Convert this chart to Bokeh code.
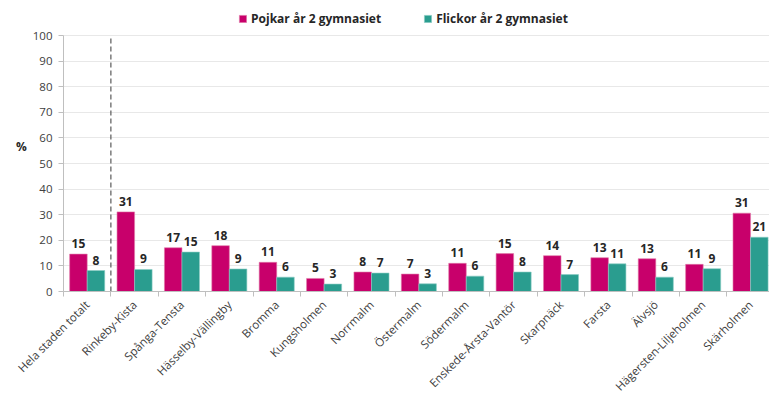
import math
from bokeh.plotting import figure
from bokeh.models import ColumnDataSource, Range1d, FixedTicker, Legend, LegendItem, LabelSet
from bokeh.core.properties import value
from bokeh.embed import file_html
from bokeh.resources import INLINE

categories = ["Hela staden totalt", "Rinkeby-Kista", "Spånga-Tensta", "Hässelby-Vällingby",
              "Bromma", "Kungsholmen", "Norrmalm", "Östermalm", "Södermalm",
              "Enskede-Årsta-Vantör", "Skarpnäck", "Farsta", "Älvsjö",
              "Hägersten-Liljeholmen", "Skärholmen"]
boys = [14.6, 31.1, 17.1, 17.9, 11.4, 5.1, 7.6, 6.8, 11.0, 14.8, 14.0, 13.2, 12.8, 10.6, 30.6]
girls = [8.2, 8.6, 15.4, 8.8, 5.6, 2.9, 7.2, 3.0, 6.0, 7.6, 6.6, 10.8, 5.6, 8.9, 21.2]
series_names = ["Pojkar år 2 gymnasiet", "Flickor år 2 gymnasiet"]
y_ticks = [0, 10, 20, 30, 40, 50, 60, 70, 80, 90, 100]
y_title = "%"

MAGENTA = "#C8006B"
TEAL = "#2A9D8F"
FONT = "Open Sans"

n = len(categories)
centers = [i + 0.5 for i in range(n)]
bw = 0.37
y_max = y_ticks[-1]

src_b = ColumnDataSource(dict(x=[c - bw / 2 for c in centers], top=boys,
                              lab=["%d" % round(v) for v in boys]))
src_g = ColumnDataSource(dict(x=[c + bw / 2 for c in centers], top=girls,
                              lab=["%d" % round(v) for v in girls]))

# frame: 291 px tall, value 100 sits 35 px below the top
p = figure(width=769, height=405, output_backend="svg", toolbar_location=None,
           x_range=Range1d(0, 14.9), y_range=Range1d(0, y_max * 291 / 256),
           min_border_left=63, min_border_right=0, min_border_top=0, min_border_bottom=114)
p.outline_line_color = None
p.background_fill_color = "white"

rb = p.vbar(x="x", top="top", width=bw, bottom=0, source=src_b, fill_color=MAGENTA,
            line_color="#e07aa8", line_width=0.6)
rg = p.vbar(x="x", top="top", width=bw, bottom=0, source=src_g, fill_color=TEAL,
            line_color="#8ccdc4", line_width=0.6)

for src in (src_b, src_g):
    ls = LabelSet(x="x", y="top", text="lab", source=src, text_align="center",
                  text_baseline="bottom", y_offset=6, text_font=value(FONT),
                  text_font_size=value("12px"), text_font_style="bold",
                  text_color="#262626")
    p.add_layout(ls)

# dashed separator between the city total and the districts
p.segment(x0=[1], y0=[0], x1=[1], y1=[y_max], line_color="#595959",
          line_dash="5 3", line_width=1.2)

# axes
p.yaxis.ticker = FixedTicker(ticks=y_ticks)
p.yaxis.bounds = (0, y_max)
p.yaxis.axis_line_color = "#bfbfbf"
p.yaxis.major_tick_line_color = "#bfbfbf"
p.yaxis.major_tick_out = 5
p.yaxis.major_tick_in = 0
p.yaxis.minor_tick_line_color = None
p.yaxis.major_label_text_font = FONT
p.yaxis.major_label_text_font_size = "11.5px"
p.yaxis.major_label_text_color = "#404040"
p.yaxis.major_label_standoff = 6
p.yaxis.axis_label = y_title
p.yaxis.axis_label_text_font = FONT
p.yaxis.axis_label_text_font_size = "12px"
p.yaxis.axis_label_text_font_style = "bold"
p.yaxis.axis_label_text_color = "#262626"
p.yaxis.axis_label_standoff = 3
try:
    p.yaxis[0].axis_label_orientation = "horizontal"
except Exception:
    pass

p.xaxis.ticker = FixedTicker(ticks=centers, minor_ticks=[float(i) for i in range(n + 1)])
p.xaxis.major_label_overrides = {c: categories[i] for i, c in enumerate(centers)}
p.xaxis.major_label_orientation = math.pi / 4
p.xaxis.major_tick_line_color = None
p.xaxis.minor_tick_line_color = "#bfbfbf"
p.xaxis.minor_tick_out = 5
p.xaxis.minor_tick_in = 0
p.xaxis.axis_line_color = "#bfbfbf"
p.xaxis.major_label_text_font = FONT
p.xaxis.major_label_text_font_size = "11.5px"
p.xaxis.major_label_text_color = "#404040"
p.xaxis.major_label_standoff = 5

p.xgrid.grid_line_color = None
p.ygrid.grid_line_color = "#e8e8e8"
p.ygrid.ticker = FixedTicker(ticks=y_ticks[1:])

legend = Legend(items=[LegendItem(label=series_names[0], renderers=[rb]),
                       LegendItem(label=series_names[1], renderers=[rg])],
                orientation="horizontal", location=(175, 264),
                glyph_width=9, glyph_height=9, label_standoff=4, spacing=42,
                padding=0, margin=0, border_line_color=None,
                background_fill_alpha=0,
                label_text_font=FONT, label_text_font_size="12px",
                label_text_font_style="bold", label_text_color="#262626",
                label_height=12)
p.add_layout(legend)

open("out.html", "w").write(file_html(p, INLINE))
